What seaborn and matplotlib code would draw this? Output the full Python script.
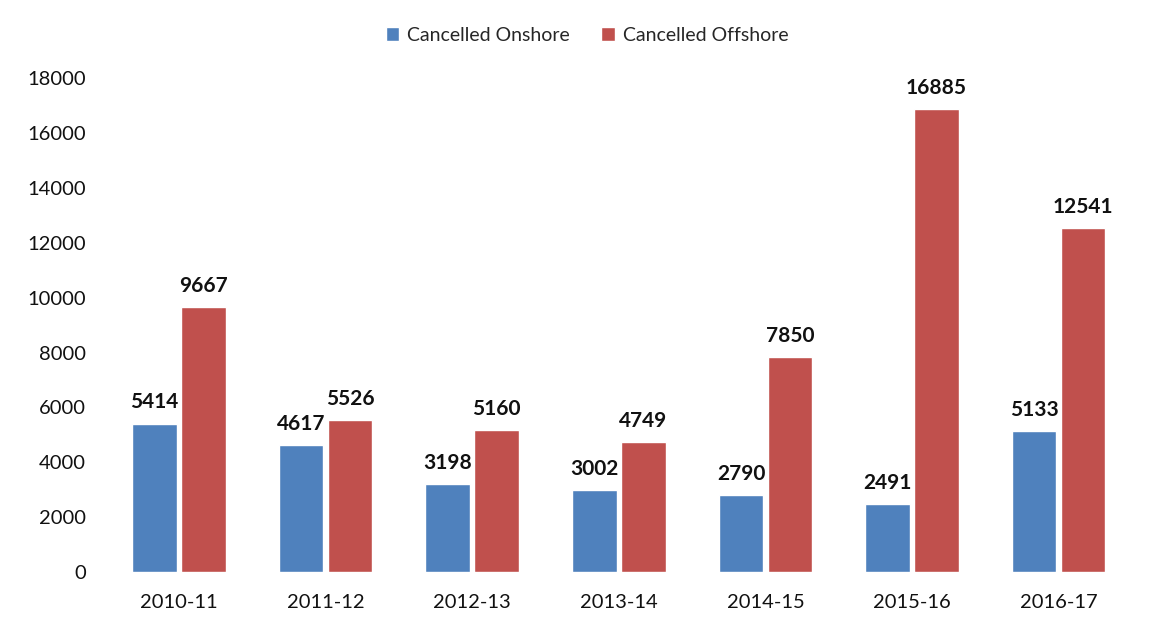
import matplotlib
matplotlib.use("Agg")
import matplotlib.pyplot as plt
import pandas as pd
import seaborn as sns

# ── Data ─────────────────────────────────────────────────
years = ["2010-11", "2011-12", "2012-13", "2013-14", "2014-15", "2015-16", "2016-17"]
onshore = [5414, 4617, 3198, 3002, 2790, 2491, 5133]
offshore = [9667, 5526, 5160, 4749, 7850, 16885, 12541]
series = ["Cancelled Onshore", "Cancelled Offshore"]
PALETTE = {"Cancelled Onshore": "#4F81BD", "Cancelled Offshore": "#C0504D"}

df = pd.DataFrame({
    "year": years * 2,
    "value": onshore + offshore,
    "series": [series[0]] * len(years) + [series[1]] * len(years),
})

sns.set_theme(style="white")
plt.rcParams["font.family"] = ["Lato", "DejaVu Sans"]

fig = plt.figure(figsize=(11.61, 6.38), dpi=100)
ax = fig.add_axes([0.091, 0.1034, 0.884, 0.774])

sns.barplot(data=df, x="year", y="value", hue="series", order=years,
            hue_order=series, palette=PALETTE, width=0.668, gap=0.09,
            saturation=1, ax=ax, legend=True)

for cont in ax.containers:
    ax.bar_label(cont, fmt="%d", padding=8, fontsize=15, fontweight="bold",
                 color="#111111")

ax.set_ylim(0, 18000)
ax.set_yticks(range(0, 18001, 2000))
ax.set_xlabel("")
ax.set_ylabel("")
ax.tick_params(axis="both", labelsize=14.5, colors="#111111", length=0)
ax.tick_params(axis="x", pad=16)
ax.tick_params(axis="y", pad=14)
sns.despine(ax=ax, left=True, bottom=True)

ax.legend(loc="center", bbox_to_anchor=(0.469, 1.087), ncol=2,
          frameon=False, fontsize=14, handlelength=0.7, handleheight=0.7,
          handletextpad=0.4, columnspacing=1.6)

fig.savefig("out.png", dpi=100)
